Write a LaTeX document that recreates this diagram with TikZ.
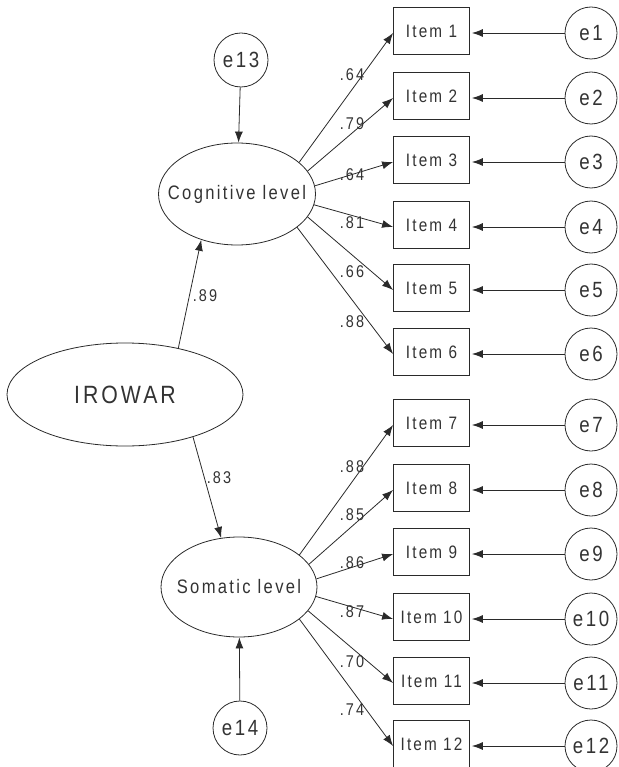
\documentclass[tikz,border=0pt]{standalone}
\usepackage{fontspec}
\setmainfont{Liberation Sans}[FakeStretch=0.85, LetterSpace=12]
\usetikzlibrary{shapes.geometric,arrows.meta}
\definecolor{ink}{HTML}{2A2A2A}
\definecolor{txt}{HTML}{333333}
\tikzset{
  arr/.style={draw=ink, line width=0.8pt, -{Latex[length=11pt,width=8pt]}},
  itembox/.style={draw=ink, line width=0.8pt, minimum width=76pt, minimum height=47pt, inner sep=0pt, text=txt, font=\fontsize{18}{18}\selectfont},
  errc/.style={draw=ink, line width=0.8pt, circle, minimum size=52pt, inner sep=0pt, text=txt, font=\fontsize{22}{22}\selectfont},
  latent/.style={draw=ink, line width=0.8pt, ellipse, inner sep=0pt},
  ltext/.style={text=txt, inner sep=0pt},
  coef/.style={text=txt, font=\fontsize{17}{17}\selectfont, inner sep=0pt}
}
\begin{document}
\begin{tikzpicture}[x=1pt,y=-1pt]
\useasboundingbox (0,0) rectangle (618,767);
% latent variables
\node[latent, minimum width=236pt, minimum height=103pt] (iro) at (125,394.5) {};
\node[ltext, font=\fontsize{25}{25}\selectfont] (irot) at (iro.center) {IROWAR};
\node[latent, minimum width=157pt, minimum height=102pt] (cog) at (237,194) {};
\node[ltext, font=\fontsize{19.5}{19.5}\selectfont] (cogt) at (cog.center) {Cognitive level};
\node[latent, minimum width=156pt, minimum height=100pt] (som) at (239,587) {};
\node[ltext, font=\fontsize{19.5}{19.5}\selectfont] (somt) at (som.center) {Somatic level};
\node[errc, minimum size=54pt] (e13) at (241,60) {e13};
\node[errc, minimum size=54pt] (e14) at (240,728) {e14};
% items and errors
\foreach \i/\y in {1/31,2/96,3/160,4/225,5/288,6/352,7/423,8/488,9/552,10/617,11/681,12/744}{
  \node[itembox] (it\i) at (431.5,\y) {Item \i};
  \node[errc] (e\i) at (591,\y+2) {e\i};
  \draw[arr, shorten >=2pt] (e\i.west) -- ([yshift=-2pt]it\i.east);
}
% structural paths
\draw[arr] (e13) -- (cog);
\draw[arr] (e14) -- (som);
\draw[arr] (iro.41.8) -- (cog.232);
\draw[arr] (iro.-32.4) -- (som.110.4);
% loadings
\foreach \i/\a in {1/27.7,2/18.4,3/6.5,4/-8,5/-18.7,6/-29}{
  \draw[arr] (cog.\a) -- ([yshift=-2pt]it\i.west);
}
\foreach \i/\a in {7/28,8/18.7,9/6.6,10/-7,11/-19.6,12/-28}{
  \draw[arr] (som.\a) -- ([yshift=-2pt]it\i.west);
}
% coefficients
\node[coef] (c89) at (205,296) {.89};
\node[coef] (c83) at (219,478) {.83};
\node[coef] (l1) at (352,75) {.64};
\node[coef] (l2) at (352,124) {.79};
\node[coef] (l3) at (352,175) {.64};
\node[coef] (l4) at (352,223) {.81};
\node[coef] (l5) at (352,272) {.66};
\node[coef] (l6) at (352,322) {.88};
\node[coef] (l7) at (352,467) {.88};
\node[coef] (l8) at (352,515) {.85};
\node[coef] (l9) at (352,563) {.86};
\node[coef] (l10) at (352,612) {.87};
\node[coef] (l11) at (352,662) {.70};
\node[coef] (l12) at (352,710) {.74};
\end{tikzpicture}
\end{document}
